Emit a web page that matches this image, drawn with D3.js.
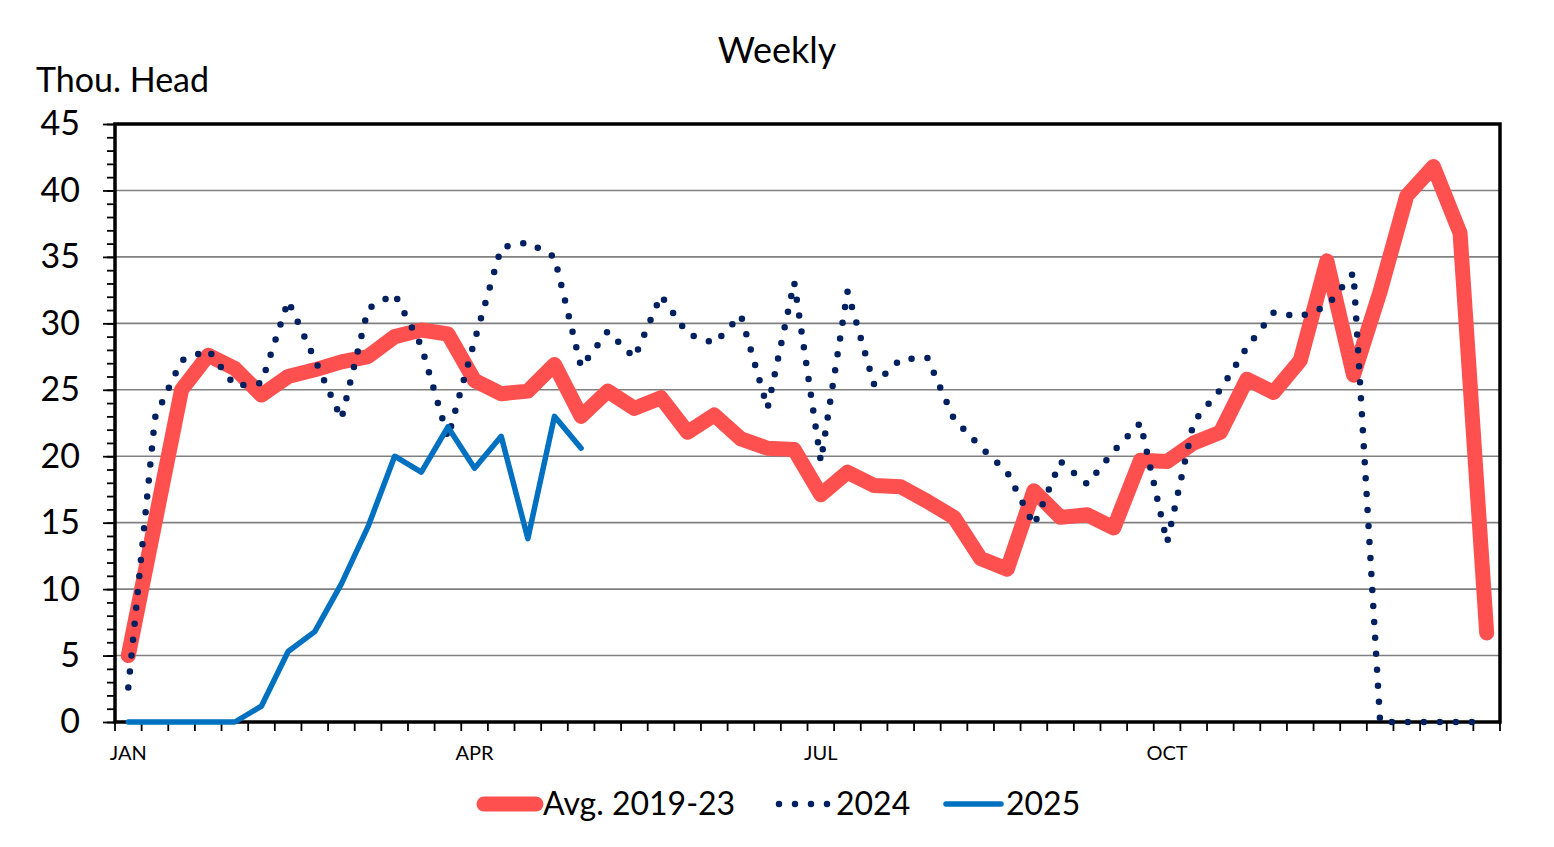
<!doctype html>
<html lang="en">
<head>
  <meta charset="utf-8">
  <title>Weekly</title>
  <script src="https://d3js.org/d3.v7.min.js"></script>
  <style>
    body { margin: 0; background: #fff; }
    svg { display: block; font-family: Lato, "Open Sans", sans-serif; }
  </style>
</head>
<body>
<svg width="1554" height="847"></svg>
<script>
  // week categories and axis labels
  var weeks = d3.range(1, 53);
  var monthWeeks = [1, 14, 27, 40];
  var monthLabels = ["JAN", "APR", "JUL", "OCT"];
  var yTicks = [0, 5, 10, 15, 20, 25, 30, 35, 40, 45];

  // series values, thousand head per week
  var avg1923 = [5.0, 15.0, 25.0, 27.6, 26.6, 24.6, 26.0, 26.5, 27.1, 27.5,
                 29.0, 29.5, 29.2, 25.7, 24.7, 24.9, 26.9, 23.0, 24.9, 23.6,
                 24.4, 21.8, 23.1, 21.3, 20.6, 20.5, 17.1, 18.8, 17.8, 17.7,
                 16.6, 15.4, 12.3, 11.5, 17.4, 15.4, 15.6, 14.6, 19.7, 19.6,
                 21.0, 21.8, 25.8, 24.8, 27.2, 34.7, 26.1, 32.4, 39.6, 41.8,
                 36.8, 6.7];
  var y2024 = [2.6, 22.9, 27.2, 28.0, 25.3, 25.5, 31.7, 27.3, 22.8, 31.1,
               32.2, 28.3, 21.4, 28.7, 35.7, 36.1, 35.0, 26.7, 29.4, 27.4,
               32.1, 29.2, 28.5, 30.6, 23.6, 33.1, 19.6, 32.4, 25.4, 27.3,
               27.4, 22.8, 20.7, 18.8, 14.8, 19.6, 17.9, 20.4, 22.5, 13.5,
               22.6, 25.0, 28.2, 30.8, 30.5, 31.3, 33.8, 0, 0, 0,
               0, 0];
  var y2025 = [0, 0, 0, 0, 0, 1.2, 5.3, 6.8, 10.4, 14.7,
               20.0, 18.8, 22.2, 19.1, 21.5, 13.8, 23.0, 20.6];

  var svg = d3.select("svg");
  var plotLeft = 115, plotRight = 1500, plotTop = 124, plotBottom = 722;

  var x = d3.scaleBand().domain(weeks).range([plotLeft, plotRight]);
  var y = d3.scaleLinear().domain([0, 45]).range([plotBottom, plotTop]);
  var half = x.bandwidth() / 2;

  // gridlines
  svg.append("g")
    .selectAll("line")
    .data(yTicks.filter(function(d) { return d > 0 && d < 45; }))
    .enter().append("line")
      .attr("x1", plotLeft).attr("x2", plotRight)
      .attr("y1", function(d) { return y(d); })
      .attr("y2", function(d) { return y(d); })
      .attr("stroke", "#808080")
      .attr("stroke-width", 1.6);

  // y axis minor + major ticks
  var yMinor = svg.append("g")
    .attr("transform", "translate(" + plotLeft + ",0)")
    .call(d3.axisLeft(y).tickValues(d3.range(0, 46)).tickSize(8).tickFormat(""));
  var yMajor = svg.append("g")
    .attr("transform", "translate(" + plotLeft + ",0)")
    .call(d3.axisLeft(y).tickValues(yTicks).tickSize(12).tickPadding(23));
  [yMinor, yMajor].forEach(function(g) {
    g.select(".domain").remove();
    g.selectAll(".tick line").attr("stroke", "#000").attr("stroke-width", 1.8);
  });
  yMajor.selectAll(".tick text")
    .attr("font-size", 34)
    .attr("font-family", "Lato, sans-serif")
    .attr("fill", "#000");

  // x axis: ticks at band edges, labels at quarter starts
  var xAxis = svg.append("g")
    .attr("transform", "translate(0," + plotBottom + ")")
    .call(d3.axisBottom(x).tickValues(monthWeeks).tickSize(0).tickPadding(24)
      .tickFormat(function(d, i) { return monthLabels[i]; }));
  xAxis.select(".domain").remove();
  xAxis.selectAll(".tick text")
    .attr("font-size", 20)
    .attr("font-family", "Lato, sans-serif")
    .attr("fill", "#000");

  svg.append("g")
    .selectAll("line")
    .data(weeks.concat([null]))
    .enter().append("line")
      .attr("x1", function(d, i) { return plotLeft + i * x.step(); })
      .attr("x2", function(d, i) { return plotLeft + i * x.step(); })
      .attr("y1", plotBottom).attr("y2", plotBottom + 9)
      .attr("stroke", "#000").attr("stroke-width", 1.8);

  // plot border
  svg.append("rect")
    .attr("x", plotLeft).attr("y", plotTop)
    .attr("width", plotRight - plotLeft).attr("height", plotBottom - plotTop)
    .attr("fill", "none").attr("stroke", "#000").attr("stroke-width", 3.5);

  // series
  var line = d3.line()
    .x(function(d, i) { return x(weeks[i]) + half; })
    .y(function(d) { return y(d); });

  svg.append("path")
    .attr("d", line(avg1923))
    .attr("fill", "none").attr("stroke", "#FF5050")
    .attr("stroke-width", 15)
    .attr("stroke-linejoin", "round").attr("stroke-linecap", "round");

  svg.append("path")
    .attr("d", line(y2024))
    .attr("fill", "none").attr("stroke", "#002060")
    .attr("stroke-width", 6.5)
    .attr("stroke-dasharray", "0 16")
    .attr("stroke-linecap", "round");

  svg.append("path")
    .attr("d", line(y2025))
    .attr("fill", "none").attr("stroke", "#0070C0")
    .attr("stroke-width", 5.5)
    .attr("stroke-linejoin", "round").attr("stroke-linecap", "round");

  // titles
  svg.append("text")
    .attr("x", 777).attr("y", 63)
    .attr("text-anchor", "middle")
    .attr("font-size", 36)
    .text("Weekly");
  svg.append("text")
    .attr("x", 36).attr("y", 92)
    .attr("font-size", 34)
    .text("Thou. Head");

  // legend
  var legend = svg.append("g");
  var ly = 804;
  legend.append("line")
    .attr("x1", 484).attr("x2", 536).attr("y1", ly).attr("y2", ly)
    .attr("stroke", "#FF5050").attr("stroke-width", 15).attr("stroke-linecap", "round");
  legend.append("text").attr("x", 543).attr("y", ly).attr("dy", "0.35em")
    .attr("font-size", 32).text("Avg. 2019-23");
  legend.append("line")
    .attr("x1", 779).attr("x2", 828).attr("y1", ly).attr("y2", ly)
    .attr("stroke", "#002060").attr("stroke-width", 6.5)
    .attr("stroke-dasharray", "0 16").attr("stroke-linecap", "round");
  legend.append("text").attr("x", 836).attr("y", ly).attr("dy", "0.35em")
    .attr("font-size", 32).text("2024");
  legend.append("line")
    .attr("x1", 946).attr("x2", 1001).attr("y1", ly).attr("y2", ly)
    .attr("stroke", "#0070C0").attr("stroke-width", 5.5).attr("stroke-linecap", "round");
  legend.append("text").attr("x", 1006).attr("y", ly).attr("dy", "0.35em")
    .attr("font-size", 32).text("2025");
</script>
</body>
</html>
